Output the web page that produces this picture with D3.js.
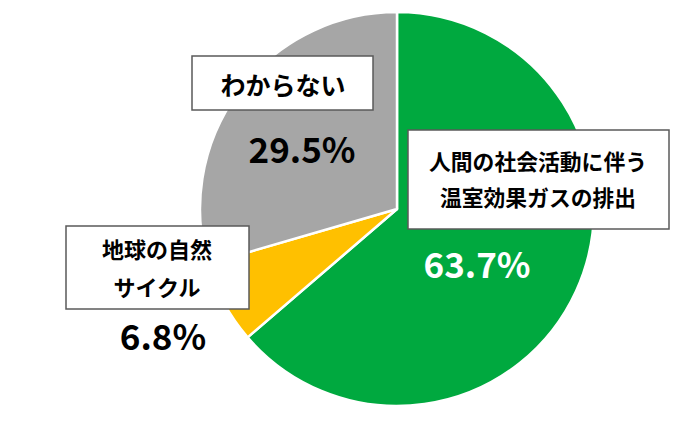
<!DOCTYPE html>
<html><head><meta charset="utf-8">
<script src="https://cdn.jsdelivr.net/npm/d3@7"></script>
<style>html,body{margin:0;padding:0;background:#fff;}svg{display:block;}</style>
</head><body>
<svg id="c" width="697" height="443"></svg>
<script>
const categories = ["人間の社会活動に伴う温室効果ガスの排出", "地球の自然サイクル", "わからない"];
const values = [63.7, 6.8, 29.5];
const valueLabels = ["63.7%", "6.8%", "29.5%"];
const labelLines = [["人間の社会活動に伴う", "温室効果ガスの排出"], ["地球の自然", "サイクル"], ["わからない"]];
const colors = ["#00A93F", "#FFC000", "#A6A6A6"];

const svg = d3.select("#c");
const cx = 397, cy = 209, R = 197;
const g = svg.append("g").attr("transform", `translate(${cx},${cy})`);
const pie = d3.pie().sort(null).value(d => d);
const arc = d3.arc().innerRadius(0).outerRadius(R);
g.selectAll("path").data(pie(values)).join("path")
  .attr("d", arc).attr("fill", (d, i) => colors[i])
  .attr("stroke", "#fff").attr("stroke-width", 2.5).attr("stroke-linejoin", "round");

const font = "'Noto Sans CJK JP', sans-serif";
const boxes = [
  {x: 408, y: 130, w: 261, h: 99, tx: 538, bl: [170, 206], fs: 21.8},
  {x: 66, y: 226, w: 183, h: 83, tx: 157, bl: [258, 296], fs: 22},
  {x: 192, y: 56, w: 181, h: 54, tx: 283, bl: [95], fs: 25}
];
const pct = [
  {x: 477, y: 278, fill: "#fff"},
  {x: 163, y: 350, fill: "#000"},
  {x: 302, y: 163, fill: "#000"}
];
boxes.forEach((b, i) => {
  svg.append("rect").attr("x", b.x).attr("y", b.y).attr("width", b.w).attr("height", b.h)
    .attr("fill", "#fff").attr("stroke", "#5a5a5a").attr("stroke-width", 1.5);
  labelLines[i].forEach((t, j) => {
    svg.append("text").attr("x", b.tx).attr("y", b.bl[j]).attr("text-anchor", "middle")
      .attr("font-family", font).attr("font-weight", "bold").attr("font-size", b.fs)
      .attr("fill", "#000").text(t);
  });
  svg.append("text").attr("x", pct[i].x).attr("y", pct[i].y).attr("text-anchor", "middle")
    .attr("font-family", font).attr("font-weight", "bold").attr("font-size", 35)
    .attr("fill", pct[i].fill).text(valueLabels[i]);
});
</script>
</body></html>
